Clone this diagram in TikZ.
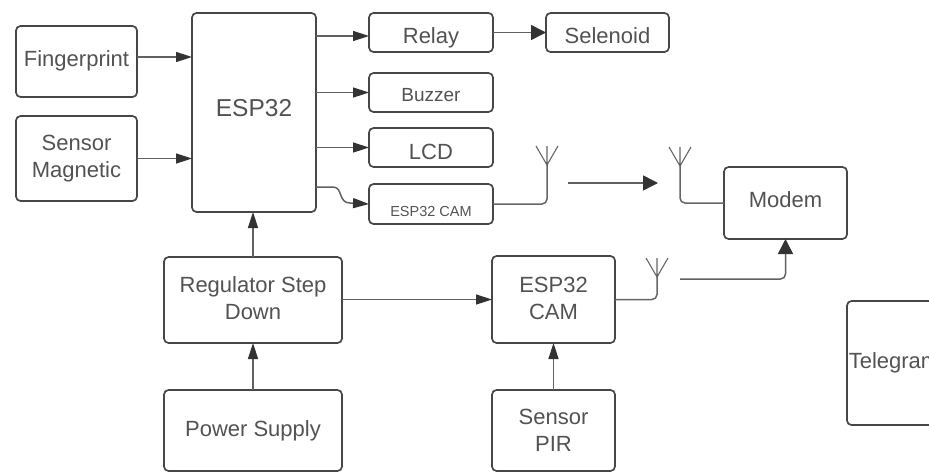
\documentclass[tikz,border=0pt]{standalone}
\usepackage{fontspec}
\setmainfont{Liberation Sans}
\usetikzlibrary{arrows.meta,positioning,calc}
\newcommand{\geser}[2]{\raisebox{#1}[.7em][.2em]{#2}}
\begin{document}
\begin{tikzpicture}[x=1pt,y=-1pt,
    blok/.style={draw=black!72,line width=1.7pt,rounded corners=4.5pt,align=center,text=black!68,inner sep=0pt,outer sep=0pt,font=\fontsize{22}{27}\selectfont},
    panah/.style={draw=black!62,line width=1.5pt,-{Triangle[length=16pt,width=10pt,color=black!80]}},
    panahbesar/.style={draw=black!62,line width=1.5pt,-{Triangle[length=15pt,width=15pt,color=black!80]}},
    garis/.style={draw=black!60,line width=1.5pt,rounded corners=5pt}]
    \useasboundingbox (0,0) rectangle (929,472);
    % Left inputs
    \node[blok,minimum width=121pt,minimum height=71pt] (fingerprint) at (76.5,61.5) {\geser{1pt}{Fingerprint}};
    \node[blok,minimum width=121pt,minimum height=85pt] (magnetic) at (76.5,158.5) {Sensor\\Magnetic};
    % Controller
    \node[blok,minimum width=124pt,minimum height=199pt,font=\fontsize{24.5}{27}\selectfont] (esp) at (254,112.5) {\geser{2pt}{ESP32}};
    % Outputs
    \node[blok,minimum width=124pt,minimum height=39pt] (relay) at (431,32.5) {\geser{-5.5pt}{Relay}};
    \node[blok,minimum width=123pt,minimum height=39pt] (selenoid) at (607.5,32.5) {\geser{-5.5pt}{Selenoid}};
    \node[blok,minimum width=124pt,minimum height=39pt,font=\fontsize{19}{27}\selectfont] (buzzer) at (431,92.5) {\geser{-4.5pt}{Buzzer}};
    \node[blok,minimum width=124pt,minimum height=39pt] (lcd) at (431,147.5) {\geser{-6pt}{LCD}};
    \node[blok,minimum width=124pt,minimum height=40pt,font=\fontsize{14.5}{16}\selectfont] (camkecil) at (431,204) {\geser{-8.5pt}{ESP32 CAM}};
    % Power
    \node[blok,minimum width=178pt,minimum height=86pt] (regulator) at (253,300) {\raisebox{4pt}{Regulator Step}\\\raisebox{4pt}{Down}};
    \node[blok,minimum width=178pt,minimum height=81pt] (power) at (253,430.5) {Power Supply};
    % Second camera
    \node[blok,minimum width=123pt,minimum height=87pt] (cam) at (553.5,299.5) {\raisebox{3pt}{ESP32}\\\raisebox{3pt}{CAM}};
    \node[blok,minimum width=123pt,minimum height=81pt] (pir) at (553.5,430.5) {Sensor\\PIR};
    % Modem and Telegram
    \node[blok,minimum width=123pt,minimum height=72pt] (modem) at (785.5,203) {\geser{1.5pt}{Modem}};
    \node[blok,minimum width=94pt,minimum height=124pt] (telegram) at (894,363) {\geser{0.5pt}{Telegram}};
    % Arrows into and out of ESP32
    \draw[panah] (fingerprint.east |- 0,57) -- (esp.west |- 0,57);
    \draw[panah] (magnetic.east) -- (esp.west |- magnetic.east);
    \foreach \tujuan in {buzzer,lcd} {\draw[panah] (esp.east |- \tujuan.west) -- (\tujuan.west);}
    \draw[panah] (esp.east |- 0,36) -- (relay.west |- 0,36);
    \draw[panah] (esp.east |- 0,187) -- (333,187) .. controls (343,187) and (338,203) .. (350,203) -- (camkecil.west);
    \draw[panahbesar] (relay.east) -- (selenoid.west);
    % Vertical arrows
    \draw[panah] (regulator.north) -- (regulator.north |- esp.south);
    \draw[panah] (power.north) -- (regulator.south);
    \draw[panah] (pir.north) -- (cam.south);
    \draw[panah] (regulator.east |- cam.west) -- (cam.west);
    % Antennas
    \foreach \nama/\x/\y in {antsatu/547/165,antdua/680/166,anttiga/657/277} {
      \coordinate (\nama) at (\x,\y);
      \coordinate (\nama top) at (\x,\y-19);
      \draw[draw=black!60,line width=1.1pt] (\nama top) -- (\nama) -- ++(-11,-19) (\nama) -- ++(11,-19);
    }
    \draw[garis] (camkecil.east) -- (antsatu |- camkecil.east) -- (antsatu);
    \draw[garis] (modem.west) -- (antdua |- modem.west) -- (antdua);
    \draw[garis] (cam.east) -- (anttiga |- cam.east) -- (anttiga);
    % Wireless links
    \coordinate (linksatu) at (568,183);
    \coordinate (linkdua) at (658,183);
    \coordinate (linktiga) at (680,279);
    \draw[panahbesar] (linksatu) -- (linkdua);
    \draw[panahbesar,rounded corners=5pt] (linktiga) -- (modem.south |- linktiga) -- (modem.south);
\end{tikzpicture}
\end{document}
